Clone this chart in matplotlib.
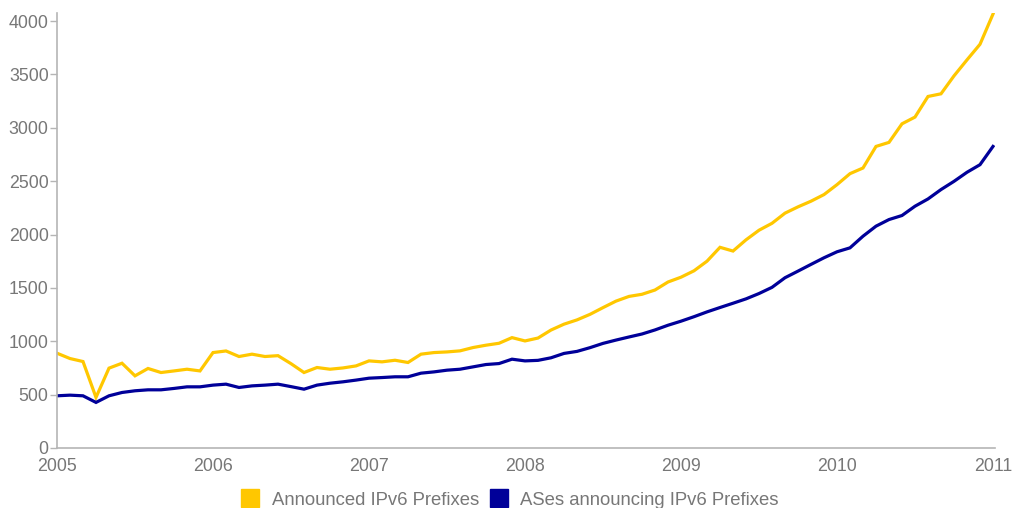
import matplotlib
matplotlib.use("Agg")
import matplotlib.pyplot as plt
from matplotlib.lines import Line2D
import numpy as np

plt.rcParams['font.family'] = ['Liberation Sans', 'DejaVu Sans']

# Monthly snapshots, Jan 2005 .. Jan 2011
year_labels = ["2005", "2006", "2007", "2008", "2009", "2010", "2011"]

announced_prefixes = [
    888, 838, 810, 474, 748, 794, 676, 745, 707, 722, 738, 722,          # 2005
    894, 909, 857, 879, 857, 865, 790, 707, 754, 738, 750, 769,          # 2006
    816, 807, 822, 801, 879, 894, 900, 910, 941, 963, 981, 1034,         # 2007
    1003, 1030, 1105, 1160, 1200, 1252, 1315, 1376, 1420, 1440, 1480, 1555,  # 2008
    1600, 1660, 1750, 1880, 1845, 1950, 2040, 2105, 2200, 2259, 2312, 2374,  # 2009
    2467, 2570, 2623, 2825, 2863, 3037, 3100, 3293, 3318, 3486, 3636, 3782,  # 2010
    4065,                                                                 # 2011
]

ases_announcing = [
    489, 495, 489, 427, 489, 520, 536, 545, 545, 558, 573, 573,
    589, 598, 567, 582, 589, 598, 575, 551, 589, 607, 620, 636,
    654, 660, 667, 667, 701, 713, 729, 738, 760, 782, 791, 832,
    816, 821, 845, 886, 905, 940, 980, 1011, 1040, 1068, 1106, 1150,
    1188, 1230, 1275, 1316, 1356, 1397, 1447, 1505, 1595, 1657, 1720, 1782,
    1838, 1875, 1984, 2078, 2140, 2178, 2265, 2333, 2421, 2498, 2583, 2654,
    2825,
]

series_names = ["Announced IPv6 Prefixes", "ASes announcing IPv6 Prefixes"]
colors = ["#FFC700", "#000099"]

months = np.arange(len(announced_prefixes))
year_ticks = np.arange(0, len(announced_prefixes), 12)

W, H = 1013, 508
fig = plt.figure(figsize=(W / 100, H / 100), dpi=100)
ax = fig.add_axes([57 / W, (H - 448) / H, (995 - 57) / W, (448 - 13) / H])

ax.plot(months, announced_prefixes, color=colors[0], lw=2.3, solid_joinstyle='miter')
ax.plot(months, ases_announcing, color=colors[1], lw=2.3, solid_joinstyle='miter')

ax.set_xlim(0, 72 + 2 * 72 / 936)
ax.set_ylim(0, 4000 * 435 / 427)

ax.set_yticks(np.arange(0, 4001, 500))
ax.set_yticklabels([str(v) for v in range(0, 4001, 500)])
ax.set_xticks(year_ticks)
ax.set_xticklabels(year_labels)

for side in ["top", "right"]:
    ax.spines[side].set_visible(False)
for side in ["left", "bottom"]:
    ax.spines[side].set_color("#b5b5b5")
    ax.spines[side].set_linewidth(1.2)

ax.tick_params(axis='y', direction='out', length=5, width=1, color="#b5b5b5",
               labelsize=12.8, labelcolor="#777777", pad=1)
ax.tick_params(axis='x', length=0, labelsize=12.8, labelcolor="#777777", pad=7)

handles = [Line2D([], [], marker='s', linestyle='none', markersize=13.5,
                  markerfacecolor=c, markeredgecolor=c) for c in colors]
fig.legend(handles, series_names, loc='lower center', bbox_to_anchor=(510 / W, -0.016),
           ncol=2, frameon=False, fontsize=13.3, labelcolor="#777777",
           handlelength=1.0, handletextpad=0.65, columnspacing=0.6, borderaxespad=0)

fig.savefig("out.png", dpi=100)
